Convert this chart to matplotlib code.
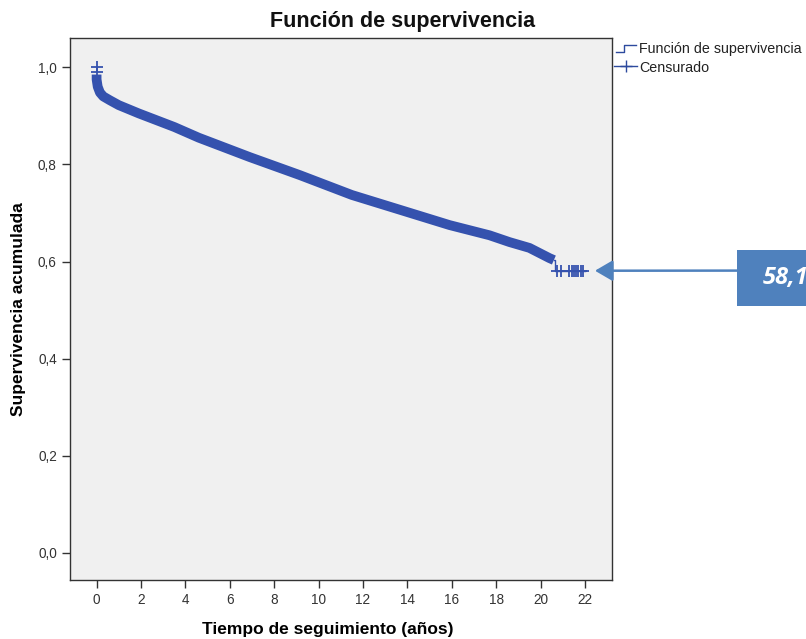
import matplotlib.pyplot as plt
from matplotlib.lines import Line2D
from matplotlib.patches import Rectangle
from matplotlib.ticker import FuncFormatter

plt.rcParams['font.family'] = ['Liberation Sans', 'DejaVu Sans']

# Kaplan-Meier curve (years, cumulative survival)
tiempo = [0.0, 0.0, 0.05, 0.15, 0.3, 0.6, 1.0, 1.9, 3.5, 4.6, 6.9, 9.15,
          11.5, 13.7, 15.9, 17.7, 18.6, 19.5, 20.4, 20.6]
supervivencia = [0.985, 0.975, 0.960, 0.948, 0.940, 0.932, 0.922, 0.905,
                 0.877, 0.855, 0.815, 0.778, 0.737, 0.706, 0.675, 0.654,
                 0.640, 0.628, 0.607, 0.603]

# last step of the curve
tiempo_final = [20.6, 20.65, 22.0]
superv_final = [0.603, 0.581, 0.581]

# visible censoring marks
censura_t = [0.0, 0.0, 20.75, 20.9, 21.3, 21.4, 21.5, 21.6, 21.7, 21.8, 21.9]
censura_s = [1.0, 0.99, 0.581, 0.581, 0.581, 0.581, 0.581, 0.581, 0.581,
             0.581, 0.581]

xticks = list(range(0, 23, 2))
yticks = [0.0, 0.2, 0.4, 0.6, 0.8, 1.0]

azul = '#3552AE'
fig = plt.figure(figsize=(8.06, 6.39), dpi=100)
ax = fig.add_axes([0.0868, 0.0923, 0.672, 0.848])
ax.set_facecolor('#F0F0F0')

ax.plot(tiempo, supervivencia, color=azul, lw=7, solid_capstyle='butt')
ax.plot(tiempo_final, superv_final, color=azul, lw=1, drawstyle='steps-post')
ax.plot(censura_t, censura_s, ls='none', marker='+', ms=9, mew=1.3, color=azul)

ax.set_xlim(-1.2, 23.2)
ax.set_ylim(-0.056, 1.06)
ax.set_xticks(xticks)
ax.set_yticks(yticks)
ax.yaxis.set_major_formatter(FuncFormatter(lambda v, p: f'{v:.1f}'.replace('.', ',')))
ax.tick_params(length=6, width=1, color='#333333', labelcolor='#333333', labelsize=9.8)
for s in ax.spines.values():
    s.set_color('#333333')
    s.set_linewidth(1)

fig.text(0.5, 1-22/639, 'Función de supervivencia', ha='center', va='center',
         fontsize=15.5, fontweight='bold', color='#111111')
fig.text(0.407, 0.003, 'Tiempo de seguimiento (años)', ha='center', va='bottom',
         fontsize=12.5, fontweight='bold')
fig.text(0.014, 0.516, 'Supervivencia acumulada', ha='left', va='center',
         rotation=90, fontsize=12.5, fontweight='bold')

# legend drawn beside the axes
leg_color = '#2D4A9E'
fig.add_artist(Line2D([616/806, 624/806, 624/806, 636/806],
                      [1-52/639, 1-52/639, 1-45/639, 1-45/639],
                      color=leg_color, lw=1))
fig.text(639/806, 1-49/639, 'Función de supervivencia', fontsize=10.3,
         va='center', ha='left', color='#222222')
fig.add_artist(Line2D([614/806, 637/806], [1-66/639, 1-66/639],
                      color=leg_color, lw=1))
fig.add_artist(Line2D([625.5/806], [1-66/639], color=leg_color, marker='+',
                      ms=9, mew=1, ls='none'))
fig.text(639/806, 1-68/639, 'Censurado', fontsize=10.3, va='center',
         ha='left', color='#222222')

# annotation with final survival
caja = '#4F81BD'
valor = f'{superv_final[-1] * 100:.1f}'.replace('.', ',')
fig.add_artist(Rectangle((737/806, 1-306/639), 0.2, 56/639,
                         transform=fig.transFigure, color=caja, lw=0))
fig.text(763/806, 1-278/639, valor, color='white', fontsize=17,
         fontweight='bold', style='italic', va='center', ha='left',
         family=['Open Sans', 'DejaVu Sans'])
ax.annotate('', xy=(22.45, superv_final[-1]), xycoords='data',
            xytext=(737/806, 1-270.6/639), textcoords='figure fraction',
            arrowprops=dict(arrowstyle='-|>,head_length=0.6,head_width=0.35',
                            color=caja, lw=1.8, mutation_scale=18,
                            shrinkA=0, shrinkB=0),
            annotation_clip=False)

plt.savefig('out.png', dpi=100)
